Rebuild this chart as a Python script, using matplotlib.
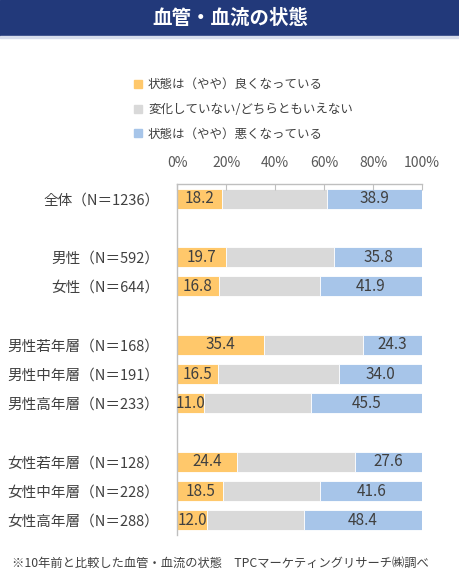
import matplotlib.pyplot as plt
from matplotlib.lines import Line2D
from matplotlib.patches import Rectangle
import numpy as np

plt.rcParams['font.family'] = ['Noto Sans CJK JP', 'DejaVu Sans']

categories = ['全体（N＝1236）',
              '男性（N＝592）', '女性（N＝644）',
              '男性若年層（N＝168）', '男性中年層（N＝191）', '男性高年層（N＝233）',
              '女性若年層（N＝128）', '女性中年層（N＝228）', '女性高年層（N＝288）']
better = [18.2, 19.7, 16.8, 35.4, 16.5, 11.0, 24.4, 18.5, 12.0]
worse = [38.9, 35.8, 41.9, 24.3, 34.0, 45.5, 27.6, 41.6, 48.4]
series_names = ['状態は（やや）良くなっている',
                '変化していない/どちらともいえない',
                '状態は（やや）悪くなっている']
x_ticks = [0, 20, 40, 60, 80, 100]

colors = ['#FFC86B', '#D9D9D9', '#A7C5E9']
text_color = '#404040'

better = np.array(better)
worse = np.array(worse)
neutral = 100 - better - worse
y_pos = np.array([0, 2, 3, 5, 6, 7, 9, 10, 11])

fig = plt.figure(figsize=(4.6, 5.8), dpi=100)

# title banner
fig.patches.append(Rectangle((0, 1 - 36 / 580), 1, 36 / 580,
                             transform=fig.transFigure,
                             color='#22397A', zorder=0))
fig.patches.append(Rectangle((0, 1 - 38 / 580), 1, 2 / 580,
                             transform=fig.transFigure,
                             color='#D6DCEB', zorder=0))
fig.text(0.5, 1 - 18 / 580, '血管・血流の状態', color='white',
         fontsize=14, fontweight='bold', ha='center', va='center')

ax = fig.add_axes([177.5 / 460, 45 / 580, (422 - 177.5) / 460, (535 - 184) / 580])

h = 0.69
ax.barh(y_pos, better, height=h, color=colors[0], edgecolor='white', linewidth=0.6)
ax.barh(y_pos, neutral, left=better, height=h, color=colors[1],
        edgecolor='white', linewidth=0.6)
ax.barh(y_pos, worse, left=better + neutral, height=h, color=colors[2],
        edgecolor='white', linewidth=0.6)

for y, b, n, w in zip(y_pos, better, neutral, worse):
    ax.text(b / 2, y, f'{b:.1f}', ha='center', va='center',
            fontsize=11, color=text_color)
    ax.text(b + n + w / 2, y, f'{w:.1f}', ha='center', va='center',
            fontsize=11, color=text_color)

ax.set_xlim(0, 100)
ax.set_ylim(11.5, -0.5)
ax.set_xticks(x_ticks)
ax.set_xticklabels([f'{t}%' for t in x_ticks])
ax.set_yticks(y_pos)
ax.set_yticklabels(categories)
ax.xaxis.tick_top()
ax.tick_params(axis='x', direction='in', length=4, color='#BFBFBF',
               labelsize=10, labelcolor='#595959', pad=10)
ax.tick_params(axis='y', length=0, labelsize=10.5, labelcolor=text_color, pad=13)
for side in ['right', 'bottom']:
    ax.spines[side].set_visible(False)
for side in ['top', 'left']:
    ax.spines[side].set_color('#BFBFBF')
    ax.spines[side].set_linewidth(1.0)

handles = [Line2D([], [], marker='s', linestyle='none', markersize=6,
                  markerfacecolor=c, markeredgecolor=c) for c in colors]
fig.legend(handles, series_names, loc='upper left',
           bbox_to_anchor=(128 / 460, 1 - 72 / 580), frameon=False,
           fontsize=9, labelcolor=text_color, handlelength=0.6,
           handletextpad=0.5, labelspacing=0.93, borderpad=0)

fig.text(12 / 460, 1 - 563 / 580,
         '※10年前と比較した血管・血流の状態　TPCマーケティングリサーチ㈱調べ',
         fontsize=8.8, color=text_color, ha='left', va='center')

fig.savefig('out.png', dpi=100)
